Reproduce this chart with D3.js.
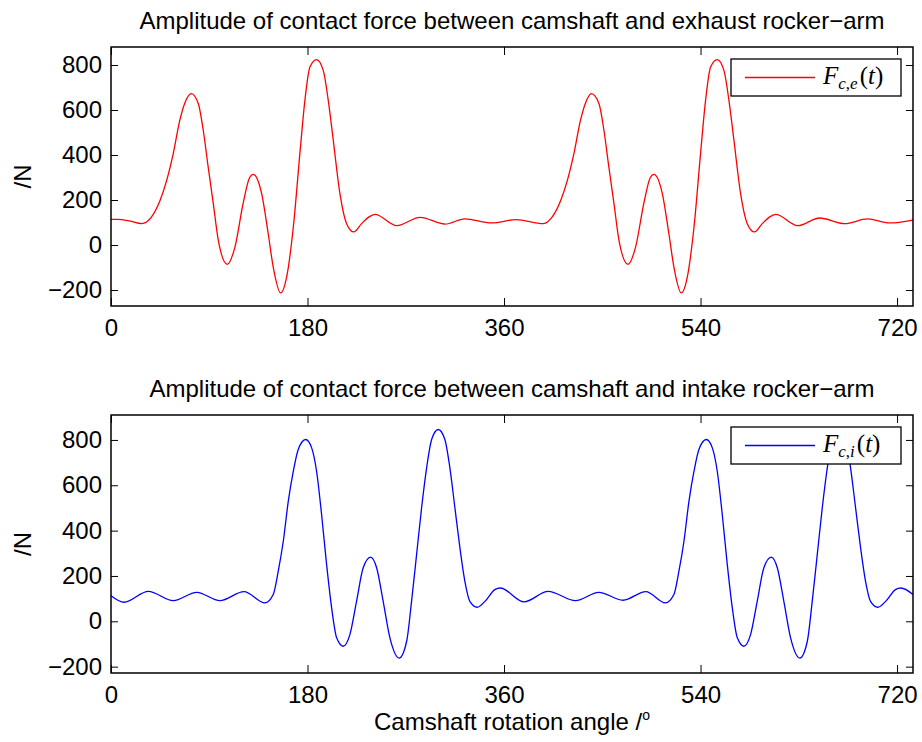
<!DOCTYPE html>
<html>
<head>
<meta charset="utf-8">
<script src="https://cdn.jsdelivr.net/npm/d3@7"></script>
<style>
  html, body { margin: 0; padding: 0; background: #ffffff; }
  svg { display: block; }
</style>
</head>
<body>
<div id="chart"></div>
<script>
// Camshaft rotation angle (degrees) and contact force amplitude (N)

// Exhaust rocker-arm contact force F_c,e(t)
const exhaustAngle = [
  0, 6, 17, 28, 37, 45, 51, 57, 63, 68, 73.5, 80, 84.5, 89, 93.7, 98.3, 106.5, 113.5, 121, 127, 130.3,
  138, 144, 148.6, 155.4, 160.9, 167, 173, 177.6, 182.2, 188.3, 194.4, 199, 203.6, 209.7, 215.8, 222.5,
  229.5, 236, 241.8, 261.7, 283, 306, 324, 348.7, 371, 396,
  404, 412, 418, 424, 430, 435, 440, 447, 451.5, 456, 460.7, 465.3, 473.5, 480.5, 488, 494, 497.3,
  505, 511, 515.6, 522.4, 527.9, 534, 540, 544.6, 549.2, 555.3, 561.4, 566, 570.6, 576.7, 582.8, 589.5,
  596.5, 603, 608.8, 629, 649, 672, 693, 713, 734.6
];
const exhaustForce = [
  114, 114, 107, 95, 124, 199, 287, 406, 554, 636, 673, 628, 510, 347, 184, 21, -86, -9, 184, 300, 314,
  228, 50, -98, -213, -142, 80, 406, 643, 791, 824, 776, 643, 465, 228, 95, 58,
  95, 124, 136, 86, 123, 93, 116, 98, 113, 95,
  124, 199, 287, 406, 554, 636, 673, 628, 510, 347, 184, 21, -86, -9, 184, 300, 314,
  228, 50, -98, -213, -142, 80, 406, 643, 791, 824, 776, 643, 465, 228, 95, 58,
  95, 124, 136, 86, 120, 95, 116, 98, 111
];

// Intake rocker-arm contact force F_c,i(t)
const intakeAngle = [
  0, 11.9, 34.2, 57, 78.5, 99.8, 121.8, 141, 148.6, 153.2, 157.8, 162.4, 167, 171.5, 178.3, 183.8,
  188.3, 192.9, 197.5, 202.1, 206.7, 212.7, 218.8, 224.9, 231, 237.8, 243.3, 249.3, 255.5, 264, 270.8,
  275.3, 279.9, 284.5, 289.1, 293.7, 299.7, 305.8, 310.4, 315, 319.6, 324.1, 328.7, 335.4, 342.5,
  351.6, 356.5, 378.4, 400.4, 425.5, 446.8, 469, 489.9, 507.8,
  515.6, 520.2, 524.8, 529.4, 534, 538.5, 545.3, 550.8, 555.3, 559.9, 564.5, 569.1, 573.7, 579.7,
  585.8, 591.9, 598, 604.8, 610.3, 616.3, 622.5, 631, 637.8, 642.3, 646.9, 651.5, 656.1, 660.7,
  666.7, 672.8, 677.4, 682, 686.6, 691.1, 695.7, 702.4, 709.5, 718.6, 723.5, 734.6
];
const intakeForce = [
  113, 84, 132, 91, 128, 91, 131, 81, 118, 221, 353, 530, 662, 758, 802, 765,
  662, 471, 250, 59, -73, -110, -59, 88, 236, 283, 236, 88, -73, -162, -88,
  88, 294, 501, 677, 802, 846, 802, 677, 501, 324, 177, 88, 62, 88,
  140, 147, 86, 132, 91, 128, 93, 131, 81,
  118, 221, 353, 530, 662, 758, 802, 765, 662, 471, 250, 59, -73, -110,
  -59, 88, 236, 283, 236, 88, -73, -162, -88, 88, 294, 501, 677, 802,
  846, 802, 677, 501, 324, 177, 88, 62, 88, 140, 147, 118
];

const xTicks = [0, 180, 360, 540, 720];
const yTicks = [-200, 0, 200, 400, 600, 800];

const panels = [
  {
    title: "Amplitude of contact force between camshaft and exhaust rocker\u2212arm",
    angle: exhaustAngle, force: exhaustForce, color: "#ff0000",
    yDomain: [-271, 880], top: 47, bottom: 306, sub: ["c", "e"]
  },
  {
    title: "Amplitude of contact force between camshaft and intake rocker\u2212arm",
    angle: intakeAngle, force: intakeForce, color: "#0000ff",
    yDomain: [-228, 910], top: 415, bottom: 673, sub: ["c", "i"]
  }
];

const W = 922, H = 742;
const left = 111, right = 913;
const fontSans = "'Liberation Sans', Arial, Helvetica, sans-serif";
const fontSerif = "'Liberation Serif', 'Times New Roman', serif";
const fs = 24;

const svg = d3.select("#chart").append("svg")
  .attr("width", W).attr("height", H)
  .attr("viewBox", `0 0 ${W} ${H}`);

const x = d3.scaleLinear().domain([0, 734.6]).range([left, right]);

panels.forEach((p, i) => {
  const y = d3.scaleLinear().domain(p.yDomain).range([p.bottom, p.top]);
  const g = svg.append("g");

  const clipId = "clip" + i;
  svg.append("clipPath").attr("id", clipId).append("rect")
    .attr("x", left).attr("y", p.top).attr("width", right - left).attr("height", p.bottom - p.top);

  // bottom axis with labels, ticks pointing inward
  g.append("g").attr("transform", `translate(0,${p.bottom})`)
    .call(d3.axisBottom(x).tickValues(xTicks).tickSizeInner(-8).tickSizeOuter(0).tickPadding(13));
  // top axis, ticks only
  g.append("g").attr("transform", `translate(0,${p.top})`)
    .call(d3.axisTop(x).tickValues(xTicks).tickSizeInner(-8).tickSizeOuter(0).tickFormat(""));
  // left axis with labels
  g.append("g").attr("transform", `translate(${left},0)`)
    .call(d3.axisLeft(y).tickValues(yTicks).tickSizeInner(-7).tickSizeOuter(0).tickPadding(9)
      .tickFormat(d => d < 0 ? "\u2212" + Math.abs(d) : String(d)));
  // right axis, ticks only
  g.append("g").attr("transform", `translate(${right},0)`)
    .call(d3.axisRight(y).tickValues(yTicks).tickSizeInner(-7).tickSizeOuter(0).tickFormat(""));

  g.selectAll(".domain").remove();
  g.selectAll(".tick line").attr("stroke", "#000").attr("stroke-width", 1);
  g.selectAll(".tick text").attr("fill", "#000").style("font-size", fs + "px")
    .style("font-family", fontSans);

  // force curve
  const line = d3.line()
    .x((d, k) => x(p.angle[k]))
    .y(d => y(d))
    .curve(d3.curveMonotoneX);
  g.append("path")
    .datum(p.force)
    .attr("clip-path", `url(#${clipId})`)
    .attr("fill", "none")
    .attr("stroke", p.color)
    .attr("stroke-width", 1.3)
    .attr("d", line);

  // axes box
  g.append("rect")
    .attr("x", left).attr("y", p.top)
    .attr("width", right - left).attr("height", p.bottom - p.top)
    .attr("fill", "none").attr("stroke", "#000").attr("stroke-width", 1.5);

  // title
  g.append("text")
    .attr("x", (left + right) / 2).attr("y", p.top - 18)
    .attr("text-anchor", "middle")
    .style("font-family", fontSans).style("font-size", fs + "px")
    .text(p.title);

  // y label
  g.append("text")
    .attr("transform", `translate(31,${(p.top + p.bottom) / 2}) rotate(-90)`)
    .attr("text-anchor", "middle")
    .style("font-family", fontSans).style("font-size", fs + "px")
    .text("/N");

  // legend
  const lx = 731, ly = p.top + 12, lw = 170, lh = 37;
  const lg = g.append("g");
  lg.append("rect").attr("x", lx).attr("y", ly).attr("width", lw).attr("height", lh)
    .attr("fill", "#fff").attr("stroke", "#000").attr("stroke-width", 1.3);
  lg.append("line").attr("x1", lx + 14).attr("x2", lx + 84)
    .attr("y1", ly + lh / 2).attr("y2", ly + lh / 2)
    .attr("stroke", p.color).attr("stroke-width", 1.3);
  const lt = lg.append("text").attr("x", lx + 92).attr("y", ly + 25)
    .style("font-family", fontSerif).style("font-size", "25px");
  lt.append("tspan").style("font-style", "italic").text("F");
  lt.append("tspan").style("font-style", "italic").style("font-size", "17px").attr("dy", 5).text(p.sub[0]);
  lt.append("tspan").style("font-size", "17px").text(",");
  lt.append("tspan").style("font-style", "italic").style("font-size", "17px").text(p.sub[1]);
  lt.append("tspan").attr("dy", -5).attr("dx", 2).text("(");
  lt.append("tspan").style("font-style", "italic").text("t");
  lt.append("tspan").text(")");
});

// x label under the lower panel
const xl = svg.append("text")
  .attr("x", (left + right) / 2).attr("y", 730)
  .attr("text-anchor", "middle")
  .style("font-family", fontSans).style("font-size", fs + "px");
xl.append("tspan").text("Camshaft rotation angle /");
xl.append("tspan").style("font-size", "14px").attr("dy", -10).text("o");
</script>
</body>
</html>
